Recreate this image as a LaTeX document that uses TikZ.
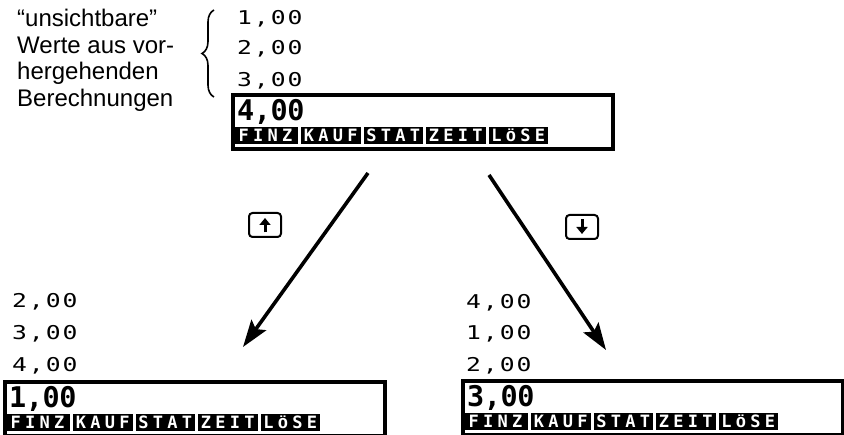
\documentclass[tikz,border=0pt]{standalone}
\usepackage{fontspec}
\usepackage{graphicx}
\setmainfont{Liberation Sans}
\newfontfamily\lcdfont{DejaVu Sans Mono}
\newfontfamily\lcdwide[FakeStretch=1.3]{DejaVu Sans Mono}
\usetikzlibrary{arrows.meta,decorations.pathreplacing,calc}
\newlength\lcdw
\def\lcdloop#1{\ifx\relax#1\else\makebox[\lcdw]{#1}\expandafter\lcdloop\fi}
\newcommand\lcd[2]{\setlength\lcdw{#1}\lcdloop#2\relax}
\newcommand\lowO{\raisebox{0pt}{\scalebox{1}[0.8]{Ö}}}
\tikzset{
  smalldig/.style={inner sep=0pt, anchor=base west, font=\lcdwide\fontsize{19}{19}\selectfont},
  bigdig/.style={inner sep=0pt, anchor=base west, font=\lcdfont\bfseries\fontsize{28.5}{29}\selectfont},
  dispbox/.style={draw, line width=3.2pt, minimum width=380pt, minimum height=54pt, inner sep=0pt, outer sep=0pt, anchor=north west},
  softkey/.style={fill=black, text=white, inner sep=0pt, outer sep=0pt, minimum height=17pt, text height=12pt, text depth=0pt, anchor=north west, font=\lcdfont\bfseries\fontsize{17}{17}\selectfont},
  keycap/.style={draw, line width=2pt, rounded corners=3.5pt, minimum width=32pt, minimum height=24pt, inner sep=0pt},
  keyarrow/.style={line width=3pt, -{Triangle[length=7pt,width=11pt]}},
  flow/.style={line width=3.6pt, -{Stealth[length=27pt,width=18pt,inset=5pt]}},
  notetext/.style={anchor=base west, align=left, inner sep=0pt, font=\fontsize{24}{26.5}\selectfont},
}
\newcommand\calcdisplay[4]{%
  \node[dispbox] (#1) at (#2,#3) {};
  \node[bigdig] (#1val) at ($(#2,#3)+(4,26)$) {\lcd{16.8pt}{#4}};
  \node[softkey, minimum width=65pt] (#1ka) at ($(#2,#3)+(0,32)$) {\lcd{14.5pt}{FINZ}};
  \node[softkey, minimum width=59.5pt] (#1kb) at ($(#2,#3)+(68,32)$) {\lcd{14.5pt}{KAUF}};
  \node[softkey, minimum width=59.5pt] (#1kc) at ($(#2,#3)+(130.5,32)$) {\lcd{14.5pt}{STAT}};
  \node[softkey, minimum width=59.5pt] (#1kd) at ($(#2,#3)+(193,32)$) {\lcd{14.5pt}{ZEIT}};
  \node[softkey, minimum width=59.5pt] (#1ke) at ($(#2,#3)+(255.5,32)$) {\lcd{14.5pt}{L{\lowO}SE}};
}
\begin{document}
\begin{tikzpicture}[x=1pt,y=-1pt]
\useasboundingbox (0,0) rectangle (844,435);
% note and brace
\node[notetext] (note) at (17,106.5) {“unsichtbare”\\Werte aus vor-\\hergehenden\\Berechnungen};
\draw[line width=1.6pt, decorate, decoration={brace, amplitude=12pt}] (214,97) -- (214,10);
% top display
\node[smalldig] (ta) at (236,25) {\lcd{16.8pt}{1,00}};
\node[smalldig] (tb) at (236,55) {\lcd{16.8pt}{2,00}};
\node[smalldig] (tc) at (236,87) {\lcd{16.8pt}{3,00}};
\calcdisplay{top}{233}{95}{4,00}
% bottom left
\node[smalldig] (la) at (11,308) {\lcd{16.8pt}{2,00}};
\node[smalldig] (lb) at (11,340) {\lcd{16.8pt}{3,00}};
\node[smalldig] (lc) at (11,372) {\lcd{16.8pt}{4,00}};
\calcdisplay{left}{5}{382}{1,00}
% bottom right
\node[smalldig] (ra) at (465,309) {\lcd{16.8pt}{4,00}};
\node[smalldig] (rb) at (465,340) {\lcd{16.8pt}{1,00}};
\node[smalldig] (rc) at (465,372) {\lcd{16.8pt}{2,00}};
\calcdisplay{right}{463}{381}{3,00}
% keys
\node[keycap] (upkey) at (265,225) {};
\node[keycap] (downkey) at (582,227) {};
\draw[keyarrow] ($(upkey.center)+(0,7.5)$) -- ($(upkey.center)+(0,-7)$);
\draw[keyarrow] ($(downkey.center)+(0,-7.5)$) -- ($(downkey.center)+(0,7)$);
% arrows
\coordinate (lfrom) at (368,173);
\coordinate (lto) at (243,347);
\coordinate (rfrom) at (489,175);
\coordinate (rto) at (606,350);
\draw[flow] (lfrom) -- (lto);
\draw[flow] (rfrom) -- (rto);
\end{tikzpicture}
\end{document}
